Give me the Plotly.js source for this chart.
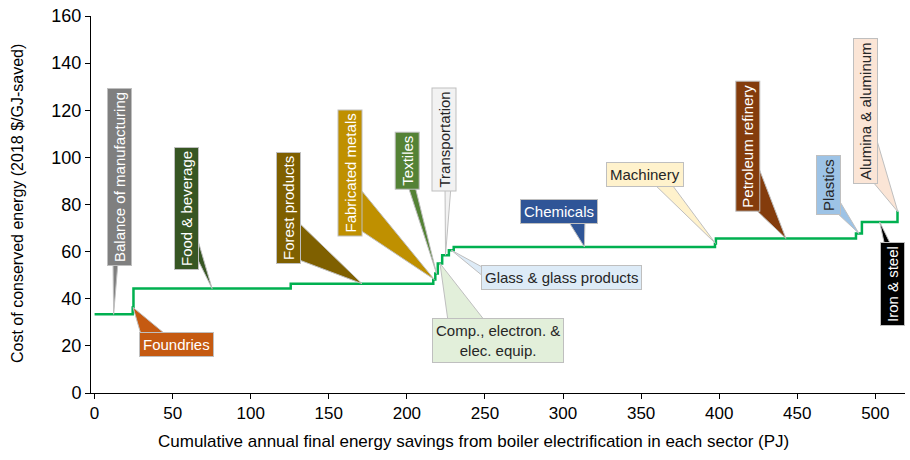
<!DOCTYPE html>
<html><head><meta charset="utf-8">
<script src="https://cdn.plot.ly/plotly-3.0.1.min.js"></script>
<style>html,body{margin:0;padding:0;background:#fff;}#chart{width:910px;height:460px;}</style>
</head><body><div id="chart"></div>
<script>
// ---- data ----
const sectors = ['Balance of manufacturing','Foundries','Food & beverage','Forest products','Fabricated metals','Textiles','Comp., electron. &<br>elec. equip.','Transportation','Glass & glass products','Chemicals','Machinery','Petroleum refinery','Plastics','Iron & steel','Alumina & aluminum'];
const savingsPJ = [24.4,0.5,100.7,91.3,1.3,1.6,2.8,4.3,3.1,167.3,0.6,89.7,3.8,22.8,0.5];
const costs = [33.4,36.3,44.3,46.4,48.2,50.7,55.0,58.5,60.6,62.0,63.5,65.6,67.7,72.6,76.9];
const xTickVals = [0,50,100,150,200,250,300,350,400,450,500];
const yTickVals = [0,20,40,60,80,100,120,140,160];

// ---- label styling / placement (pixels) ----
const boxFill = ['#7F7F7F','#C55A11','#375623','#7F6000','#BF9000','#548235','#E2EFDA','#F2F2F2','#DDEBF7','#2F5597','#FFF2CC','#843C0C','#9DC3E6','#000000','#FBE5D6'];
const boxText = ['#fff','#fff','#fff','#fff','#fff','#fff','#262626','#262626','#262626','#fff','#262626','#fff','#262626','#fff','#262626'];
const vertical = [1,0,1,1,1,1,0,1,0,0,0,1,1,1,1];
const labelPx = [[119,177],[176.5,344.5],[186,209],[288,208],[350,173.5],[406.7,161],[497.5,340],[444,139.5],[561,277],[559,211.4],[644.5,174],[748,146.7],[828.5,185.5],[892.5,284.5],[865,111]];
// wedge base endpoints (pixels), each [[x1,y1],[x2,y2]]
const baseSeg = [
  [[113,262],[118,262]],
  [[142,338],[170,338]],
  [[192,220],[192,248]],
  [[294,218],[294,258]],
  [[357,185],[357,228]],
  [[408,186],[415,186]],
  [[448,321],[485,321]],
  [[445,186],[451,186]],
  [[484,268],[484,277]],
  [[567,219],[585,219]],
  [[652,182],[670,182]],
  [[755,158],[755,209]],
  [[836,195],[836,212]],
  [[885,247],[892,247]],
  [[873,127],[873,182]]
];

const L=91, T=16, W=814, H=377;
const xr=[-2.3,519], yr=[0,160];
const px2x = p => xr[0] + (p-L)/W*(xr[1]-xr[0]);
const py2y = p => yr[0] + (T+H-p)/H*(yr[1]-yr[0]);

// step line
const stepX=[0], stepY=[];
let cum=0; const mids=[];
for(let i=0;i<savingsPJ.length;i++){
  mids.push(cum+savingsPJ[i]/2);
  cum+=savingsPJ[i];
  stepX.push(cum);
  stepY.push(costs[i]);
}
stepY.push(costs[costs.length-1]);

const trace={x:stepX,y:stepY,type:'scatter',mode:'lines',line:{shape:'hv',color:'#00B050',width:2.5},hoverinfo:'skip',showlegend:false};

const shapes=[], annotations=[];
const FONT='Liberation Sans, Arial, sans-serif';
for(let i=0;i<sectors.length;i++){
  const [p1,p2]=baseSeg[i];
  shapes.push({type:'path',xref:'x',yref:'y',layer:'above',
    path:`M${mids[i]},${costs[i]} L${px2x(p1[0])},${py2y(p1[1])} L${px2x(p2[0])},${py2y(p2[1])} Z`,
    fillcolor:boxFill[i],line:{color:'#BFBFBF',width:1}});
  annotations.push({xref:'paper',yref:'paper',x:(labelPx[i][0]-L)/W,y:1-(labelPx[i][1]-T)/H,
    xanchor:'center',yanchor:'middle',showarrow:false,text:sectors[i],textangle:vertical[i]?-90:0,
    font:{family:FONT,size:15,color:boxText[i]},bgcolor:boxFill[i],bordercolor:'#BFBFBF',borderwidth:1,borderpad:3,align:'center'});
}
annotations.push({xref:'paper',yref:'paper',x:(473-L)/W,y:1-(441-T)/H,xanchor:'center',yanchor:'middle',showarrow:false,
  text:'Cumulative annual final energy savings from boiler electrification in each sector (PJ)',font:{family:FONT,size:17,color:'#000'}});
annotations.push({xref:'paper',yref:'paper',x:(18-L)/W,y:1-(204-T)/H,xanchor:'center',yanchor:'middle',showarrow:false,textangle:-90,
  text:'Cost of conserved energy (2018 $/GJ-saved)',font:{family:FONT,size:16,color:'#000'}});

const layout={width:910,height:460,margin:{l:L,r:910-L-W,t:T,b:460-T-H},paper_bgcolor:'#fff',plot_bgcolor:'#fff',
  font:{family:FONT,color:'#000'},
  xaxis:{range:xr,tickvals:xTickVals,ticktext:xTickVals.map(String),showgrid:false,zeroline:false,showline:true,linecolor:'#000',linewidth:1,
    ticks:'outside',ticklen:5,tickcolor:'#000',tickfont:{family:FONT,size:17,color:'#000'}},
  yaxis:{range:yr,tickvals:yTickVals,ticktext:yTickVals.map(String),showgrid:false,zeroline:false,showline:true,linecolor:'#000',linewidth:1,
    ticks:'outside',ticklen:5,tickcolor:'#000',tickfont:{family:FONT,size:18,color:'#000'}},
  shapes:shapes,annotations:annotations};
Plotly.newPlot('chart',[trace],layout,{staticPlot:true,displayModeBar:false});
</script></body></html>
